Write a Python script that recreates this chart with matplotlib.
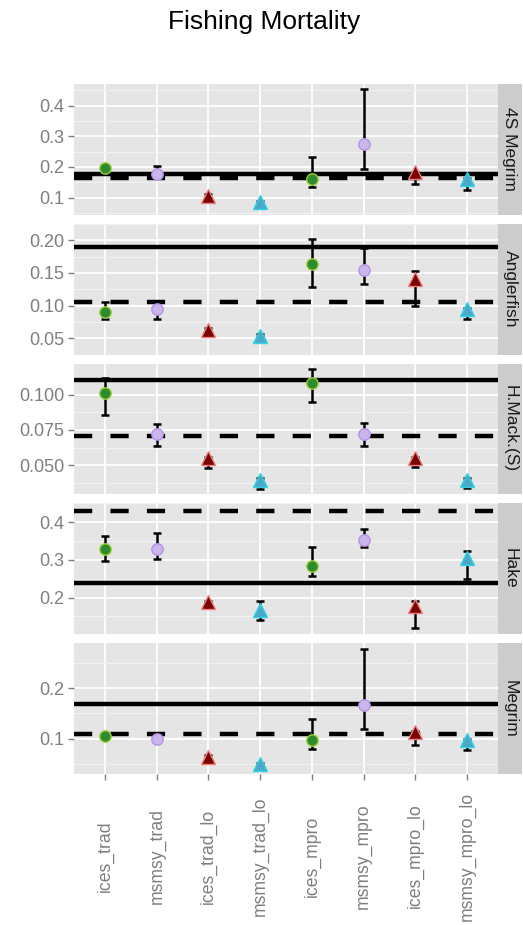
import matplotlib
matplotlib.use("Agg")
import matplotlib.pyplot as plt
import numpy as np

plt.rcParams['font.family'] = ['Liberation Sans', 'DejaVu Sans']

categories = ['ices_trad', 'msmsy_trad', 'ices_trad_lo', 'msmsy_trad_lo',
              'ices_mpro', 'msmsy_mpro', 'ices_mpro_lo', 'msmsy_mpro_lo']
stocks = ['4S Megrim', 'Anglerfish', 'H.Mack.(S)', 'Hake', 'Megrim']

# Fishing mortality estimates per stock (ordered as categories)
f_4s_megrim = [0.196, 0.176, 0.106, 0.084, 0.160, 0.275, 0.182, 0.162]
lo_4s_megrim = [0.190, 0.170, 0.100, 0.080, 0.134, 0.192, 0.145, 0.125]
hi_4s_megrim = [0.200, 0.203, 0.110, 0.088, 0.232, 0.455, 0.185, 0.165]

f_angler = [0.090, 0.094, 0.063, 0.054, 0.164, 0.154, 0.140, 0.095]
lo_angler = [0.079, 0.080, 0.060, 0.052, 0.128, 0.133, 0.099, 0.079]
hi_angler = [0.105, 0.098, 0.065, 0.056, 0.201, 0.188, 0.153, 0.097]

f_hmack = [0.101, 0.072, 0.055, 0.040, 0.108, 0.072, 0.055, 0.0395]
lo_hmack = [0.0855, 0.064, 0.048, 0.0335, 0.095, 0.064, 0.049, 0.034]
hi_hmack = [0.112, 0.079, 0.056, 0.041, 0.118, 0.080, 0.056, 0.041]

f_hake = [0.329, 0.329, 0.188, 0.168, 0.284, 0.353, 0.178, 0.305]
lo_hake = [0.296, 0.303, 0.180, 0.141, 0.258, 0.334, 0.119, 0.250]
hi_hake = [0.363, 0.371, 0.190, 0.190, 0.335, 0.381, 0.190, 0.324]

f_megrim = [0.105, 0.100, 0.064, 0.050, 0.097, 0.166, 0.113, 0.098]
lo_megrim = [0.100, 0.095, 0.060, 0.045, 0.079, 0.118, 0.088, 0.0765]
hi_megrim = [0.110, 0.109, 0.068, 0.052, 0.139, 0.278, 0.115, 0.100]

# Reference levels (solid and dashed lines) per stock
ref_solid = [0.1775, 0.1898, 0.1105, 0.239, 0.168]
ref_dashed = [0.164, 0.1058, 0.0710, 0.430, 0.108]

ylims = [(0.0436, 0.4708), (0.0377, 0.2092), (0.0295, 0.1219), (0.103, 0.449), (0.0296, 0.289)]
yticks = [[0.1, 0.2, 0.3, 0.4], [0.05, 0.10, 0.15, 0.20], [0.050, 0.075, 0.100],
          [0.2, 0.3, 0.4], [0.1, 0.2]]
yticklabels = [['0.1', '0.2', '0.3', '0.4'], ['0.05', '0.10', '0.15', '0.20'],
               ['0.050', '0.075', '0.100'], ['0.2', '0.3', '0.4'], ['0.1', '0.2']]

values = [f_4s_megrim, f_angler, f_hmack, f_hake, f_megrim]
lows = [lo_4s_megrim, lo_angler, lo_hmack, lo_hake, lo_megrim]
highs = [hi_4s_megrim, hi_angler, hi_hmack, hi_hake, hi_megrim]

# styles per category
mk = ['o', 'o', '^', '^', 'o', 'o', '^', '^']
fills = ['#2E8B2E', '#C9B6EA', '#7A0000', '#4AA9C9'] * 2
edges = ['#9ACD32', '#B592E6', '#F08080', '#2FD3E3'] * 2

W, H = 523, 925
fig = plt.figure(figsize=(W / 100, H / 100), dpi=100)

left, right = 74, 498
strip_w = 24
top0 = 84
ph = 130.8
gap = 9.0

x = np.arange(1, len(categories) + 1)

for i, st in enumerate(stocks):
    t = top0 + i * (ph + gap)
    ax = fig.add_axes([left / W, 1 - (t + ph) / H, (right - left) / W, ph / H])
    ax.set_facecolor('#E5E5E5')
    for s in ax.spines.values():
        s.set_visible(False)
    ax.set_xlim(0.4, 8.6)
    ax.set_ylim(*ylims[i])
    yt = yticks[i]
    step = yt[1] - yt[0]
    minors = [v - step / 2 for v in yt] + [yt[-1] + step / 2]
    ax.set_yticks(yt)
    ax.set_yticklabels(yticklabels[i])
    ax.set_yticks(minors, minor=True)
    ax.set_xticks(x)
    ax.grid(True, which='major', color='white', lw=1.3, zorder=0)
    ax.grid(True, which='minor', axis='y', color='#F2F2F2', lw=0.7, zorder=0)
    ax.set_axisbelow(True)
    ax.tick_params(axis='y', which='minor', length=0)
    ax.tick_params(axis='both', which='major', colors='#7F7F7F', labelsize=13,
                   length=4, width=1, pad=3)
    if i == len(stocks) - 1:
        ax.set_xticklabels(categories, rotation=90, va='center', ha='center',
                           fontsize=12.7)
        ax.tick_params(axis='x', pad=55)
    else:
        ax.tick_params(axis='x', labelbottom=False, length=0)

    ax.axhline(ref_solid[i], color='black', lw=3.2, zorder=2)
    ln = ax.axhline(ref_dashed[i], color='black', lw=3.2, zorder=2.1)
    ln.set_dashes((4.1, 4.1))

    v = np.array(values[i]); lo = np.array(lows[i]); hi = np.array(highs[i])
    ax.errorbar(x, v, yerr=[v - lo, hi - v], fmt='none', ecolor='black',
                elinewidth=1.8, capsize=2.8, capthick=1.8, zorder=3)
    for j in range(len(categories)):
        ms = 8.2 if mk[j] == 'o' else 10.5
        ax.plot(x[j], v[j], marker=mk[j], ms=ms, mfc=fills[j], mec=edges[j],
                mew=1.0, ls='none', zorder=4)

    sax = fig.add_axes([right / W, 1 - (t + ph) / H, strip_w / W, ph / H])
    sax.set_facecolor('#CCCCCC')
    sax.set_xticks([]); sax.set_yticks([])
    for s in sax.spines.values():
        s.set_visible(False)
    sax.text(0.5, 0.5, st, rotation=-90, ha='center', va='center',
             fontsize=12.5, color='#1A1A1A', transform=sax.transAxes)

fig.text(264 / W, 1 - 22 / H, 'Fishing Mortality', ha='center', va='center',
         fontsize=19, color='black')

fig.savefig('out.png', dpi=100, facecolor='white')
